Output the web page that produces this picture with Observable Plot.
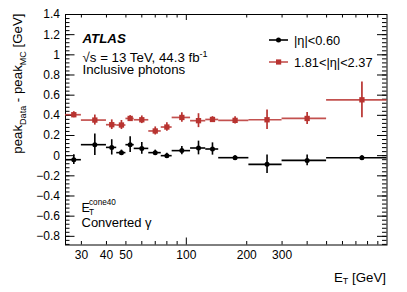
<!DOCTYPE html>
<html>
<head>
<meta charset="utf-8">
<script src="https://cdn.jsdelivr.net/npm/d3@7"></script>
<script src="https://cdn.jsdelivr.net/npm/@observablehq/plot@0.6"></script>
<style>
  html, body { margin: 0; padding: 0; background: #fff; }
  #chart svg { display: block; }
</style>
</head>
<body>
<div id="chart"></div>
<script>
// Bins in E_T [GeV]
const binLow    = [25, 30, 40, 45, 50, 55, 65, 75, 85, 105, 125, 145, 205, 300, 500];
const binHigh   = [30, 40, 45, 50, 55, 65, 75, 85, 105, 125, 145, 205, 300, 500, 1000];
const binCenter = [27.5, 35, 42.5, 47.5, 52.5, 60, 70, 80, 95, 115, 135, 175, 252.5, 400, 750];

// |eta| < 0.60
const centralVal = [-0.04, 0.109, 0.082, 0.030, 0.109, 0.072, 0.030, 0.0, 0.05, 0.076, 0.066, -0.02, -0.086, -0.047, -0.02];
const centralErr = [0.048, 0.107, 0.076, 0.025, 0.078, 0.058, 0.025, 0.023, 0.04, 0.068, 0.061, 0.02, 0.092, 0.054, 0.02];

// 1.81 < |eta| < 2.37
const forwardVal = [0.406, 0.353, 0.307, 0.304, 0.369, 0.356, 0.245, 0.284, 0.379, 0.347, 0.359, 0.350, 0.356, 0.369, 0.554];
const forwardErr = [0.03, 0.05, 0.048, 0.045, 0.028, 0.038, 0.04, 0.043, 0.047, 0.069, 0.028, 0.036, 0.097, 0.06, 0.177];

const seriesNames = ["|η|<0.60", "1.81<|η|<2.37"];
const seriesColors = ["#000000", "#b83330"];

// Axis ticks
const yMajor = [-0.8, -0.6, -0.4, -0.2, 0, 0.2, 0.4, 0.6, 0.8, 1.0, 1.2, 1.4];
const yMinor = d3.range(-88, 141, 4).map(v => v / 100);
const xMajor = [100];
const xMinor = [30, 40, 50, 60, 70, 80, 90, 200, 300, 400, 500, 600, 700, 800, 900];
const xLabels = [30, 40, 50, 100, 200, 300];

const rows = [];
binCenter.forEach((c, i) => {
  rows.push({s: 0, c, lo: binLow[i], hi: binHigh[i], v: centralVal[i], e: centralErr[i]});
});
binCenter.forEach((c, i) => {
  rows.push({s: 1, c, lo: binLow[i], hi: binHigh[i], v: forwardVal[i], e: forwardErr[i]});
});
const central = rows.filter(d => d.s === 0);
const forward = rows.filter(d => d.s === 1);

const W = 407, H = 292;
const mL = 65, mR = 20.5, mT = 14, mB = 47.5;
const pw = W - mL - mR, ph = H - mT - mB;
const font = "'Liberation Sans', Arial, Helvetica, sans-serif";

const fmtY = d => {
  const r = Math.round(d * 10) / 10;
  return r < 0 ? "−" + String(-r) : String(r);
};

const plot = Plot.plot({
  width: W,
  height: H,
  marginLeft: mL,
  marginRight: mR,
  marginTop: mT,
  marginBottom: mB,
  style: {fontFamily: font, fontSize: "12px", background: "#fff", color: "#000"},
  x: {type: "log", domain: [25, 1000], axis: null},
  y: {domain: [-0.886, 1.4], axis: null},
  marks: [
    // y ticks (inward, both sides)
    Plot.tickY(yMajor, {y: d => d, insetRight: pw - 9.5, stroke: "#000"}),
    Plot.tickY(yMajor, {y: d => d, insetLeft: pw - 9.5, stroke: "#000"}),
    Plot.tickY(yMinor, {y: d => d, insetRight: pw - 4.5, stroke: "#000"}),
    Plot.tickY(yMinor, {y: d => d, insetLeft: pw - 4.5, stroke: "#000"}),
    // x ticks (inward, bottom and top)
    Plot.tickX(xMajor, {x: d => d, insetTop: ph - 7, stroke: "#000"}),
    Plot.tickX(xMajor, {x: d => d, insetBottom: ph - 6, stroke: "#000"}),
    Plot.tickX(xMinor, {x: d => d, insetTop: ph - 3.5, stroke: "#000"}),
    Plot.tickX(xMinor, {x: d => d, insetBottom: ph - 3.5, stroke: "#000"}),
    Plot.axisY({ticks: yMajor, tickSize: 0, tickPadding: 5.5, tickFormat: fmtY, fontSize: 12, label: null}),
    Plot.axisX({ticks: xLabels, tickSize: 0, tickPadding: 5.5, tickFormat: d => String(d), fontSize: 12, label: null}),
    Plot.frame({stroke: "#000"}),
    // error bars
    Plot.ruleY(forward, {y: "v", x1: "lo", x2: "hi", stroke: seriesColors[1], strokeWidth: 1.7, strokeOpacity: 0.85}),
    Plot.ruleX(forward, {x: "c", y1: d => d.v - d.e, y2: d => d.v + d.e, stroke: seriesColors[1], strokeWidth: 1.7}),
    Plot.ruleY(central, {y: "v", x1: "lo", x2: "hi", stroke: seriesColors[0], strokeWidth: 1.6}),
    Plot.ruleX(central, {x: "c", y1: d => d.v - d.e, y2: d => d.v + d.e, stroke: seriesColors[0], strokeWidth: 1.6}),
    Plot.dot(forward, {x: "c", y: "v", symbol: "square", r: 3, fill: seriesColors[1], stroke: "none"}),
    Plot.dot(central, {x: "c", y: "v", symbol: "circle", r: 2.5, fill: seriesColors[0], stroke: "none"})
  ]
});

document.getElementById("chart").appendChild(plot);

// Annotations
const svg = d3.select(plot);
const g = svg.append("g").attr("font-family", font).attr("fill", "#000").attr("text-anchor", "start");

// ATLAS label block
g.append("text").attr("x", 82.5).attr("y", 42.5).attr("font-size", 13.3)
  .attr("font-weight", "bold").attr("font-style", "italic").text("ATLAS");
const l2 = g.append("text").attr("x", 82.5).attr("y", 62.3).attr("font-size", 13.3);
l2.append("tspan").text("√s = 13 TeV, 44.3 fb");
l2.append("tspan").attr("font-size", 9).attr("dy", -5.5).text("-1");
g.append("text").attr("x", 82.5).attr("y", 74.3).attr("font-size", 13.3).text("Inclusive photons");

// E_T^cone40 / Converted
g.append("text").attr("x", 81.5).attr("y", 211.8).attr("font-size", 12.5).text("E");
g.append("text").attr("x", 89).attr("y", 205.3).attr("font-size", 8.2).text("cone40");
g.append("text").attr("x", 89).attr("y", 214.5).attr("font-size", 8.2).text("T");
g.append("text").attr("x", 81.5).attr("y", 226.5).attr("font-size", 13).text("Converted γ");

// x-axis title
const xt = g.append("text").attr("x", 386).attr("y", 281.5).attr("font-size", 13.3).attr("text-anchor", "end");
xt.append("tspan").text("E");
xt.append("tspan").attr("font-size", 9).attr("dy", 2.8).text("T");
xt.append("tspan").attr("dy", -2.8).text(" [GeV]");

// y-axis title
const yt = g.append("text").attr("transform", "translate(22.3,13.5) rotate(-90)")
  .attr("font-size", 13.3).attr("text-anchor", "end");
yt.append("tspan").text("peak");
yt.append("tspan").attr("font-size", 9).attr("dy", 3.2).text("Data");
yt.append("tspan").attr("dy", -3.2).text(" - peak");
yt.append("tspan").attr("font-size", 9).attr("dy", 3.2).text("MC");
yt.append("tspan").attr("dy", -3.2).text(" [GeV]");

// Legend
const legY = [40, 62];
seriesNames.forEach((name, i) => {
  const lg = g.append("g");
  lg.append("line").attr("x1", 269).attr("x2", 288).attr("y1", legY[i]).attr("y2", legY[i])
    .attr("stroke", seriesColors[i]).attr("stroke-width", 1.6).attr("stroke-opacity", i ? 0.85 : 1);
  if (i === 0) {
    lg.append("circle").attr("cx", 278.5).attr("cy", legY[i]).attr("r", 2.5).attr("fill", seriesColors[i]);
  } else {
    lg.append("rect").attr("x", 276).attr("y", legY[i] - 2.6).attr("width", 5.2).attr("height", 5.2).attr("fill", seriesColors[i]);
  }
  lg.append("text").attr("x", 294).attr("y", legY[i] + 4.6).attr("font-size", 12.8).text(name);
});
</script>
</body>
</html>
